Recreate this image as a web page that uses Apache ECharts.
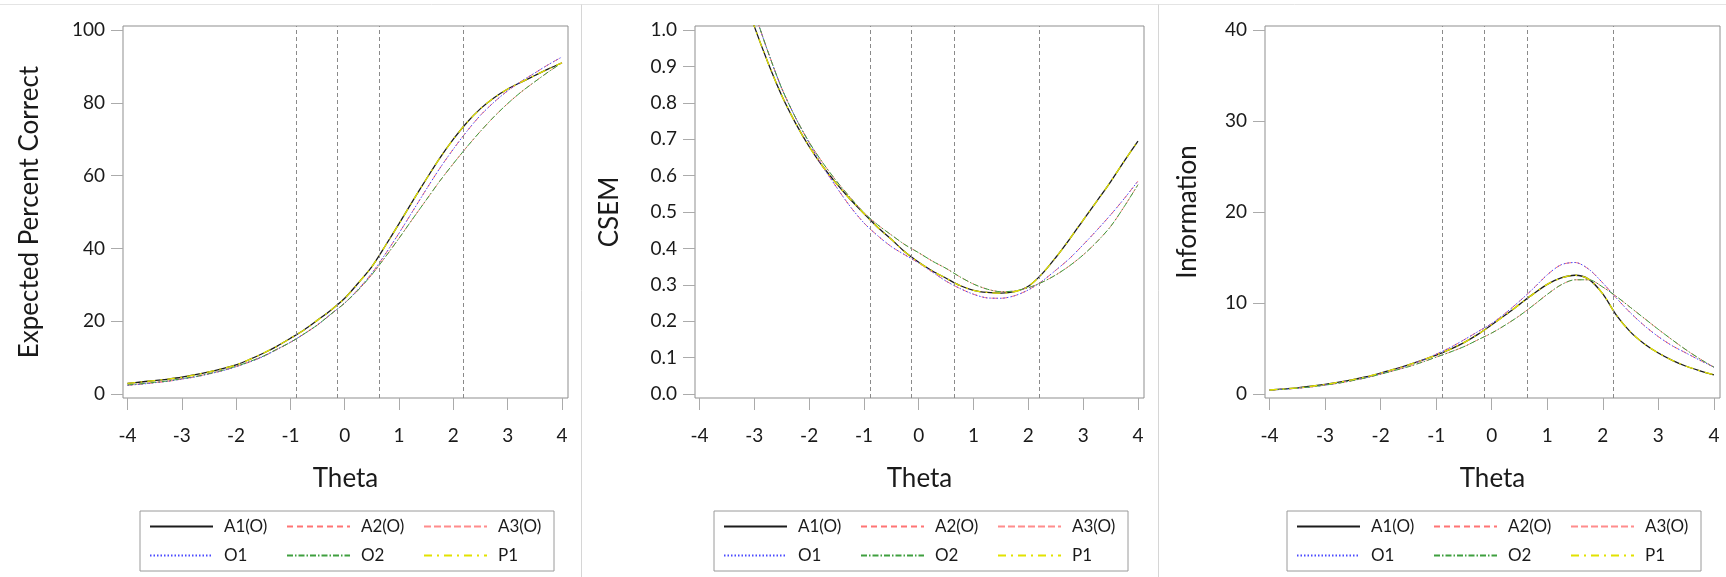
<!DOCTYPE html>
<html><head><meta charset="utf-8">
<script src="https://cdn.jsdelivr.net/npm/echarts@6/dist/echarts.min.js"></script>
<style>html,body{margin:0;padding:0;background:#fff}#c{width:1726px;height:577px}</style>
</head><body><div id="c"></div>
<script>
// ---------------- data ----------------
const theta = [-4,-3.75,-3.5,-3.25,-3,-2.75,-2.5,-2.25,-2,-1.75,-1.5,-1.25,-1,-0.75,-0.5,-0.25,0,0.25,0.5,0.75,1,1.25,1.5,1.75,2,2.25,2.5,2.75,3,3.25,3.5,3.75,4];
const seriesNames = ['A1(O)','A2(O)','A3(O)','O1','O2','P1'];
const cutPoints = [-0.89,-0.125,0.635,2.19];
const thetaTicks = [-4,-3,-2,-1,0,1,2,3,4];
const pctTicks = [0,20,40,60,80,100];
const csemTicks = [0,0.1,0.2,0.3,0.4,0.5,0.6,0.7,0.8,0.9,1.0];
const infoTicks = [0,10,20,30,40];

// Expected Percent Correct
const pct_A1 = [2.9,3.3,3.7,4.1,4.6,5.3,6.1,7.0,8.0,9.5,11.2,13.1,15.3,17.6,20.3,23.1,26.3,30.5,35.0,40.8,46.8,53.0,59.0,64.8,70.0,74.6,78.4,81.4,83.8,85.7,87.5,89.3,91.0];
const pct_A2 = [2.4,2.7,3.1,3.5,4.1,4.7,5.5,6.4,7.5,8.8,10.3,12.2,14.2,16.5,19.0,22.0,25.0,28.8,33.2,38.5,44.2,50.2,56.2,62.0,67.3,72.2,76.6,80.2,83.3,85.9,88.2,90.5,92.6];
const pct_A3 = [2.5,2.8,3.2,3.6,4.2,4.8,5.6,6.5,7.6,8.9,10.4,12.3,14.2,16.5,19.0,22.0,25.0,28.6,32.8,37.7,42.8,48.1,53.3,58.5,63.3,67.9,72.2,76.2,79.8,83.0,85.8,88.5,91.0];
const pct_O1 = [2.4,2.7,3.1,3.5,4.1,4.7,5.5,6.4,7.5,8.8,10.3,12.2,14.2,16.5,19.0,22.0,25.0,28.8,33.2,38.5,44.2,50.2,56.2,62.0,67.3,72.2,76.6,80.2,83.3,85.9,88.2,90.5,92.6];
const pct_O2 = [2.5,2.8,3.2,3.6,4.2,4.8,5.6,6.5,7.6,8.9,10.4,12.3,14.2,16.5,19.0,22.0,25.0,28.6,32.8,37.7,42.8,48.1,53.3,58.5,63.3,67.9,72.2,76.2,79.8,83.0,85.8,88.5,91.0];
const pct_P1 = [2.9,3.3,3.7,4.1,4.6,5.3,6.1,7.0,8.0,9.5,11.2,13.1,15.3,17.6,20.3,23.1,26.3,30.5,35.0,40.8,46.8,53.0,59.0,64.8,70.0,74.6,78.4,81.4,83.8,85.7,87.5,89.3,91.0];

// CSEM
const csem_A1 = [1.50,1.36,1.24,1.12,1.01,0.91,0.82,0.745,0.68,0.625,0.578,0.535,0.496,0.458,0.425,0.39,0.362,0.338,0.318,0.298,0.285,0.279,0.277,0.281,0.296,0.33,0.375,0.425,0.478,0.53,0.583,0.64,0.695];
const csem_A2 = [1.58,1.44,1.30,1.17,1.05,0.94,0.84,0.76,0.69,0.625,0.568,0.515,0.47,0.435,0.405,0.382,0.36,0.335,0.31,0.29,0.274,0.264,0.263,0.27,0.286,0.31,0.34,0.372,0.41,0.45,0.492,0.537,0.585];
const csem_A3 = [1.55,1.41,1.28,1.16,1.05,0.94,0.84,0.76,0.692,0.635,0.585,0.54,0.498,0.465,0.437,0.41,0.388,0.365,0.345,0.322,0.302,0.288,0.281,0.283,0.292,0.307,0.327,0.352,0.382,0.418,0.46,0.515,0.575];
const csem_O1 = [1.58,1.44,1.30,1.17,1.05,0.94,0.84,0.76,0.69,0.625,0.568,0.515,0.47,0.435,0.405,0.382,0.36,0.335,0.31,0.29,0.274,0.264,0.263,0.27,0.286,0.31,0.34,0.372,0.41,0.45,0.492,0.537,0.585];
const csem_O2 = [1.55,1.41,1.28,1.16,1.05,0.94,0.84,0.76,0.692,0.635,0.585,0.54,0.498,0.465,0.437,0.41,0.388,0.365,0.345,0.322,0.302,0.288,0.281,0.283,0.292,0.307,0.327,0.352,0.382,0.418,0.46,0.515,0.575];
const csem_P1 = [1.50,1.36,1.24,1.12,1.01,0.91,0.82,0.745,0.68,0.625,0.578,0.535,0.496,0.458,0.425,0.39,0.362,0.338,0.318,0.298,0.285,0.279,0.277,0.281,0.296,0.33,0.375,0.425,0.478,0.53,0.583,0.64,0.695];

// Information
const info_A1 = [0.44,0.55,0.68,0.85,1.05,1.3,1.58,1.9,2.3,2.72,3.2,3.72,4.28,4.9,5.65,6.55,7.6,8.7,9.85,11.0,12.05,12.75,13.05,12.6,11.0,8.6,6.8,5.5,4.5,3.7,3.05,2.55,2.1];
const info_A2 = [0.42,0.52,0.64,0.79,0.98,1.22,1.5,1.82,2.22,2.65,3.15,3.7,4.38,5.1,5.95,6.85,7.75,8.9,10.2,11.6,13.1,14.2,14.45,13.7,12.2,10.5,8.9,7.5,6.3,5.3,4.5,3.7,2.95];
const info_A3 = [0.42,0.52,0.64,0.79,0.98,1.2,1.48,1.8,2.18,2.58,3.0,3.5,4.05,4.6,5.2,5.95,6.7,7.6,8.6,9.75,10.95,12.0,12.55,12.55,11.75,10.7,9.5,8.3,7.1,5.95,4.85,3.85,2.95];
const info_O1 = [0.42,0.52,0.64,0.79,0.98,1.22,1.5,1.82,2.22,2.65,3.15,3.7,4.38,5.1,5.95,6.85,7.75,8.9,10.2,11.6,13.1,14.2,14.45,13.7,12.2,10.5,8.9,7.5,6.3,5.3,4.5,3.7,2.95];
const info_O2 = [0.42,0.52,0.64,0.79,0.98,1.2,1.48,1.8,2.18,2.58,3.0,3.5,4.05,4.6,5.2,5.95,6.7,7.6,8.6,9.75,10.95,12.0,12.55,12.55,11.75,10.7,9.5,8.3,7.1,5.95,4.85,3.85,2.95];
const info_P1 = [0.44,0.55,0.68,0.85,1.05,1.3,1.58,1.9,2.3,2.72,3.2,3.72,4.28,4.9,5.65,6.55,7.6,8.7,9.85,11.0,12.05,12.75,13.05,12.6,11.0,8.6,6.8,5.5,4.5,3.7,3.05,2.55,2.1];

// ---------------- styling / layout ----------------
const FONT = 'Lato, "Open Sans", sans-serif';
const TXT = '#1a1a1a';
const lineStyles = {
  'A1(O)': {color:'#1c1c1c', type:'solid', width:1.3},
  'A2(O)': {color:'#ff7474', type:[6,4], width:1},
  'A3(O)': {color:'#ff8c8c', type:[7,3], width:1},
  'O1':    {color:'#4a4aff', type:[1.5,2], width:1},
  'O2':    {color:'#3f9f3f', type:[6,2,1.5,2], width:1},
  'P1':    {color:'#e2e200', type:[8,5,2,5], width:1.3}
};

const panels = [
  {title:'Expected Percent Correct', sets:[pct_A1,pct_A2,pct_A3,pct_O1,pct_O2,pct_P1], ticks:pctTicks,
   ymin:-1.099, ymax:101.099, fmt:v=>String(v), left:123, width:445, nameGap:80, legendLeft:140},
  {title:'CSEM', sets:[csem_A1,csem_A2,csem_A3,csem_O1,csem_O2,csem_P1], ticks:csemTicks,
   ymin:-0.011, ymax:1.011, fmt:v=>v.toFixed(1), left:695, width:449, nameGap:72, legendLeft:714},
  {title:'Information', sets:[info_A1,info_A2,info_A3,info_O1,info_O2,info_P1], ticks:infoTicks,
   ymin:-0.44, ymax:40.44, fmt:v=>String(v), left:1265, width:455, nameGap:64, legendLeft:1287}
];

const grid=[], xAxis=[], yAxis=[], series=[], legend=[];
panels.forEach((p, i) => {
  grid.push({left:p.left, top:26, width:p.width, height:372, show:true, borderColor:'#8f8f8f', borderWidth:1, containLabel:false});
  xAxis.push({
    type:'value', gridIndex:i, min:-4.082, max:4.11, position:'bottom',
    name:'Theta', nameLocation:'middle', nameGap:68, nameMoveOverlap:false,
    nameTextStyle:{fontSize:26, fontFamily:FONT, color:TXT},
    axisLine:{show:false, onZero:false},
    axisTick:{show:true, inside:false, length:12, lineStyle:{color:'#ababab', width:1}, customValues:thetaTicks},
    axisLabel:{show:true, fontSize:19, fontFamily:FONT, color:TXT, margin:28, customValues:thetaTicks},
    splitLine:{show:false}
  });
  yAxis.push({
    type:'value', gridIndex:i, min:p.ymin, max:p.ymax, position:'left',
    name:p.title, nameLocation:'middle', nameGap:p.nameGap, nameRotate:90, nameMoveOverlap:false,
    nameTextStyle:{fontSize:26, fontFamily:FONT, color:TXT},
    axisLine:{show:false, onZero:false},
    axisTick:{show:true, inside:false, length:12, lineStyle:{color:'#ababab', width:1}, customValues:p.ticks},
    axisLabel:{show:true, fontSize:19, fontFamily:FONT, color:TXT, margin:18, formatter:p.fmt, customValues:p.ticks},
    splitLine:{show:false}
  });
  seriesNames.forEach((nm, k) => {
    const s = {
      type:'line', name:nm, xAxisIndex:i, yAxisIndex:i,
      data: theta.map((t, j) => [t, p.sets[k][j]]),
      symbol:'none', smooth:0.3, clip:true, animation:false,
      lineStyle: Object.assign({}, lineStyles[nm]),
      itemStyle:{color:lineStyles[nm].color},
      emphasis:{disabled:true}
    };
    if (k === 0) {
      s.markLine = {
        silent:true, symbol:['none','none'], animation:false,
        label:{show:false},
        lineStyle:{color:'#8a8a8a', type:[4,3], width:1},
        data: cutPoints.map(c => ({xAxis:c}))
      };
    }
    series.push(s);
  });
  legend.push({
    data: seriesNames.slice(), left:p.legendLeft, top:511, orient:'horizontal', width:400,
    itemWidth:63, itemHeight:14, itemGap:12, padding:[7,6,7,9],
    borderColor:'#9a9a9a', borderWidth:1, selectedMode:false,
    itemStyle:{opacity:0},
    textStyle:{fontSize:17, fontFamily:FONT, color:TXT, width:50, lineHeight:15, padding:[0,0,0,6]}
  });
});

const option = {
  backgroundColor:'#ffffff',
  animation:false,
  grid, xAxis, yAxis, series, legend,
  graphic:[
    {type:'line', shape:{x1:0, y1:4.5, x2:1726, y2:4.5}, style:{stroke:'#e4e4e4', lineWidth:1}, silent:true},
    {type:'line', shape:{x1:581.5, y1:4.5, x2:581.5, y2:577}, style:{stroke:'#d6d6d6', lineWidth:1}, silent:true},
    {type:'line', shape:{x1:1158.5, y1:4.5, x2:1158.5, y2:577}, style:{stroke:'#d6d6d6', lineWidth:1}, silent:true}
  ]
};
const chart = echarts.init(document.getElementById('c'), null, {renderer:'canvas'});
chart.setOption(option);
</script>
</body></html>
